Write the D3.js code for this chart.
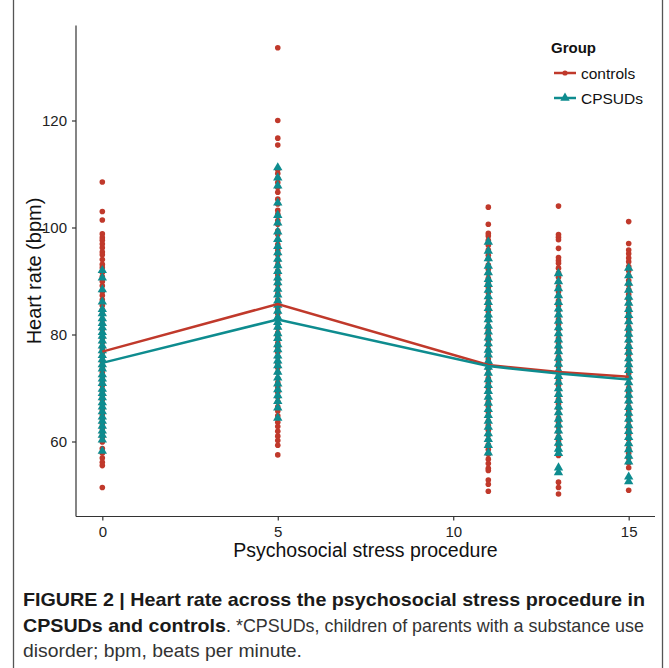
<!DOCTYPE html>
<html><head><meta charset="utf-8">
<script src="https://cdn.jsdelivr.net/npm/d3@7"></script>
<style>html,body{margin:0;padding:0;background:#fff;}svg{display:block;}</style>
</head><body>
<svg id="chart" width="669" height="668"></svg>
<script>
const timepoints = [0, 5, 11, 13, 15];
const xTicks = [0, 5, 10, 15];
const yTicks = [60, 80, 100, 120];
const groups = ["controls", "CPSUDs"];
const meanControls = [76.8, 85.7, 74.3, 73.0, 72.1];
const meanCPSUDs = [74.7, 82.8, 74.1, 72.7, 71.6];

const controls0 = [108.5, 103.0, 101.4, 98.8, 98.1, 97.6, 96.9, 96.2, 95.4, 94.9, 94.0, 93.1, 92.5, 91.6, 90.8, 89.9, 89.1, 88.0, 87.3, 86.5, 85.4, 84.6, 83.8, 82.7, 81.9, 81.0, 80.2, 79.3, 78.5, 77.4, 76.6, 75.8, 74.9, 73.7, 72.9, 72.1, 71.2, 70.4, 69.3, 68.5, 67.8, 66.9, 65.9, 65.0, 64.2, 63.3, 62.4, 61.6, 60.8, 59.9, 58.7, 57.8, 56.9, 56.1, 55.5, 51.4];
const cpsuds0 = [92.0, 90.6, 88.4, 86.1, 84.7, 83.9, 83.0, 82.1, 81.3, 80.4, 79.7, 78.8, 77.9, 77.0, 76.1, 75.3, 74.4, 73.6, 72.5, 71.7, 70.9, 69.8, 69.0, 68.2, 67.3, 66.5, 65.6, 64.6, 63.8, 62.9, 62.0, 61.2, 60.3, 58.2];
const controls5 = [133.6, 120.0, 116.7, 115.4, 110.8, 110.1, 109.2, 108.4, 107.5, 106.6, 105.3, 104.4, 103.2, 102.5, 101.3, 100.6, 99.4, 98.7, 97.6, 96.8, 95.7, 94.9, 93.8, 93.0, 91.9, 91.1, 90.2, 89.3, 88.4, 87.6, 86.5, 85.7, 84.8, 83.9, 83.1, 82.0, 81.2, 80.3, 79.5, 78.4, 77.6, 76.7, 75.8, 74.6, 73.8, 72.9, 71.8, 71.0, 70.1, 69.2, 68.3, 67.4, 66.5, 65.7, 64.8, 63.6, 62.8, 61.9, 61.0, 60.2, 59.3, 57.5];
const cpsuds5 = [111.2, 109.3, 107.8, 104.6, 102.3, 100.9, 99.2, 97.8, 96.5, 95.3, 94.1, 92.9, 91.8, 90.6, 89.7, 88.5, 87.4, 86.3, 85.5, 84.4, 83.2, 82.3, 81.4, 80.2, 79.3, 78.1, 77.2, 76.0, 75.1, 74.2, 73.0, 71.9, 70.8, 69.7, 68.6, 67.5, 66.3, 64.4];
const controls11 = [103.8, 100.6, 98.9, 98.4, 97.6, 96.7, 95.8, 94.8, 94.1, 93.0, 92.2, 91.4, 90.5, 89.6, 88.8, 87.8, 86.9, 86.1, 85.2, 84.3, 83.3, 82.6, 81.6, 80.8, 79.7, 78.9, 78.0, 77.1, 76.3, 75.4, 74.5, 73.6, 72.7, 71.8, 70.9, 70.0, 69.2, 68.3, 67.4, 66.6, 65.5, 64.7, 63.8, 63.0, 62.1, 61.2, 60.3, 59.4, 58.5, 57.6, 56.7, 55.9, 55.0, 54.6, 52.8, 52.0, 50.7];
const cpsuds11 = [97.3, 95.6, 94.2, 92.8, 91.6, 90.3, 89.4, 88.3, 87.1, 86.0, 84.9, 83.7, 82.8, 81.6, 80.5, 79.4, 78.3, 77.1, 76.2, 75.0, 73.9, 72.8, 71.6, 70.5, 69.4, 68.3, 67.2, 66.0, 64.9, 63.8, 62.7, 61.5, 60.4, 59.3, 57.9];
const controls13 = [104.0, 98.7, 98.2, 97.7, 96.1, 94.4, 93.8, 93.3, 92.4, 91.5, 90.7, 89.8, 88.9, 88.0, 87.2, 86.3, 85.4, 84.5, 83.6, 82.8, 81.9, 81.0, 80.1, 79.3, 78.4, 77.5, 76.7, 75.8, 74.9, 74.0, 73.2, 72.3, 71.4, 70.5, 69.7, 68.8, 67.9, 67.0, 66.2, 65.3, 64.4, 63.6, 62.7, 61.8, 60.9, 60.1, 59.2, 58.3, 57.4, 52.4, 51.4, 50.2];
const cpsuds13 = [91.4, 89.9, 88.6, 87.3, 86.0, 84.8, 83.7, 82.5, 81.3, 80.2, 79.0, 77.9, 76.8, 75.6, 74.5, 73.3, 72.2, 71.1, 69.9, 68.8, 67.7, 66.5, 65.4, 64.2, 63.1, 62.0, 60.8, 59.7, 58.6, 57.8, 55.1, 54.2];
const controls15 = [101.1, 97.0, 95.8, 95.1, 94.3, 93.6, 92.7, 91.9, 91.0, 90.1, 89.3, 88.4, 87.5, 86.6, 85.8, 84.9, 84.0, 83.1, 82.3, 81.4, 80.5, 79.7, 78.8, 77.9, 77.0, 76.2, 75.3, 74.4, 73.5, 72.7, 71.8, 70.9, 70.0, 69.2, 68.3, 67.4, 66.5, 65.7, 64.8, 63.9, 63.0, 62.2, 61.3, 60.4, 59.5, 58.7, 57.8, 56.9, 56.0, 55.1, 50.9];
const cpsuds15 = [92.4, 91.0, 89.6, 88.3, 87.0, 85.9, 84.7, 83.6, 82.4, 81.2, 80.1, 79.0, 77.8, 76.7, 75.5, 74.4, 73.3, 72.1, 71.0, 69.8, 68.7, 67.6, 66.4, 65.3, 64.2, 63.0, 61.9, 60.8, 59.6, 58.5, 57.3, 56.2, 53.4, 52.5];

const controlsByTime = [controls0, controls5, controls11, controls13, controls15];
const cpsudsByTime = [cpsuds0, cpsuds5, cpsuds11, cpsuds13, cpsuds15];

const RED = "#C0392B", TEAL = "#0E8C8F";
const svg = d3.select("#chart");

// frame
svg.append("line").attr("x1",13.5).attr("x2",13.5).attr("y1",0).attr("y2",668).attr("stroke","#555").attr("stroke-width",1.3);
svg.append("line").attr("x1",662.5).attr("x2",662.5).attr("y1",0).attr("y2",668).attr("stroke","#555").attr("stroke-width",1.3);

const x = d3.scaleLinear().domain([-0.75, 15.75]).range([76, 655]);
const y = d3.scaleLinear().domain([60, 120]).range([441.5, 120.5]);
const yTop = 25.5, yBot = 516.5;

const font = "'Liberation Sans', Arial, Helvetica, sans-serif";

// axes
const xAxis = svg.append("g").attr("transform", `translate(0,${yBot})`)
  .call(d3.axisBottom(x).tickValues(xTicks).tickSize(4).tickPadding(6).tickSizeOuter(0));
const yAxis = svg.append("g").attr("transform", `translate(76,0)`)
  .call(d3.axisLeft(y).tickValues(yTicks).tickSize(4).tickPadding(5).tickSizeOuter(0));
xAxis.select(".domain").attr("d", `M76,0H655`);
yAxis.select(".domain").attr("d", `M0,${yTop}V${yBot}`);
[xAxis, yAxis].forEach(g => {
  g.attr("font-size", null);
  g.select(".domain").attr("stroke", "#333").attr("stroke-width", 1.2);
  g.selectAll(".tick line").attr("stroke", "#333").attr("stroke-width", 1.2);
  g.selectAll(".tick text").attr("font-family", font).style("font-size", "15px").attr("fill", "#222");
});

// points
timepoints.forEach((t, i) => {
  svg.append("g").selectAll("circle").data(controlsByTime[i]).join("circle")
    .attr("cx", x(t)).attr("cy", d => y(d)).attr("r", 2.8).attr("fill", RED);
});
const tri = d3.symbol().type(d3.symbolTriangle).size(38);
timepoints.forEach((t, i) => {
  svg.append("g").selectAll("path").data(cpsudsByTime[i]).join("path")
    .attr("d", tri).attr("transform", d => `translate(${x(t)},${y(d)})`).attr("fill", TEAL);
});

// mean lines
const line = d3.line().x((d, i) => x(timepoints[i])).y(d => y(d));
svg.append("path").datum(meanControls).attr("d", line).attr("fill", "none").attr("stroke", RED).attr("stroke-width", 2.5);
svg.append("path").datum(meanCPSUDs).attr("d", line).attr("fill", "none").attr("stroke", TEAL).attr("stroke-width", 2.5);

// axis titles
svg.append("text").attr("x", 365.5).attr("y", 557).attr("text-anchor", "middle")
  .attr("font-family", font).attr("font-size", 19.5).attr("fill", "#111").text("Psychosocial stress procedure");
svg.append("text").attr("transform", "translate(41,271) rotate(-90)").attr("text-anchor", "middle")
  .attr("font-family", font).attr("font-size", 20).attr("fill", "#111").text("Heart rate (bpm)");

// legend
const lg = svg.append("g");
lg.append("text").attr("x", 551).attr("y", 53).attr("font-family", font).attr("font-weight", "bold")
  .attr("font-size", 15).attr("fill", "#111").text("Group");
const keys = [{name: groups[0], c: RED, yy: 73}, {name: groups[1], c: TEAL, yy: 98}];
keys.forEach((k, i) => {
  lg.append("line").attr("x1", 554).attr("x2", 576).attr("y1", k.yy).attr("y2", k.yy).attr("stroke", k.c).attr("stroke-width", 2.5);
  if (i === 0) lg.append("circle").attr("cx", 565).attr("cy", k.yy).attr("r", 2.6).attr("fill", k.c);
  else lg.append("path").attr("d", tri).attr("transform", `translate(565,${k.yy})`).attr("fill", k.c);
  lg.append("text").attr("x", 581).attr("y", k.yy + 5.5).attr("font-family", font).attr("font-size", 15.5)
    .attr("fill", "#111").text(k.name);
});

// caption
const cfont = "'Liberation Sans Narrow', 'Arial Narrow', 'Liberation Sans', Arial, sans-serif";
const cap = svg.append("g").attr("font-family", cfont).attr("font-size", 19).attr("fill", "#1a1a1a");
cap.append("text").attr("x", 23).attr("y", 606).attr("font-weight", "bold")
  .attr("textLength", 622).attr("lengthAdjust", "spacingAndGlyphs")
  .text("FIGURE 2 | Heart rate across the psychosocial stress procedure in");
cap.append("text").attr("x", 23).attr("y", 632).attr("font-weight", "bold")
  .attr("textLength", 203).attr("lengthAdjust", "spacingAndGlyphs")
  .text("CPSUDs and controls");
cap.append("text").attr("x", 226).attr("y", 632).attr("fill", "#333")
  .attr("textLength", 418).attr("lengthAdjust", "spacingAndGlyphs")
  .text(". *CPSUDs, children of parents with a substance use");
cap.append("text").attr("x", 23).attr("y", 657).attr("fill", "#333")
  .attr("textLength", 279).attr("lengthAdjust", "spacingAndGlyphs")
  .text("disorder; bpm, beats per minute.");
</script>
</body></html>
